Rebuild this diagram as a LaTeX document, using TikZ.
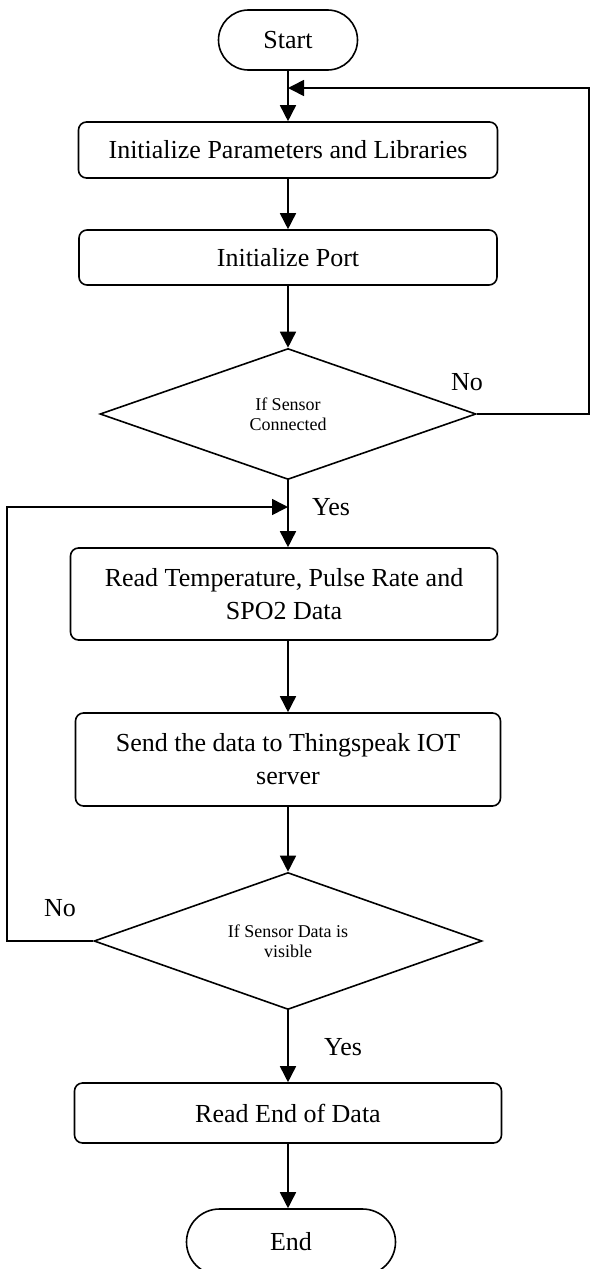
\documentclass[tikz,border=0pt]{standalone}
\usepackage{fontspec}
\setmainfont{Liberation Serif}
\usetikzlibrary{shapes.geometric}
\usetikzlibrary{arrows.meta}
\usetikzlibrary{positioning}

\begin{document}
\begin{tikzpicture}[x=0.5pt,y=-0.5pt,font=\fontsize{13}{16.5}\selectfont,
line width=0.8pt,
arr/.style={-{Triangle[length=8pt,width=8pt]}},
term/.style={draw,rounded corners=15pt,minimum height=30pt},
proc/.style={draw,rounded corners=4pt,align=center,inner sep=2pt},
decide/.style={draw,diamond,aspect=3,inner sep=0pt,align=center,
font=\fontsize{9}{10}\selectfont}]
\useasboundingbox(0,0)rectangle(590,1269);

\node[term,minimum width=69.5pt](start)at(288,40){Start};
\node[proc,minimum width=209.5pt,minimum height=28pt](init)at(288,150)
{Initialize Parameters and Libraries};
\node[proc,minimum width=209pt,minimum height=27.5pt](port)at(288,257.5)
{Initialize Port};
\node[decide,minimum width=188pt,minimum height=65.5pt](sensor)at(288,414)
{If Sensor\\Connected};
\node[proc,minimum width=213.5pt,minimum height=46pt](read)at(284,594)
{Read Temperature, Pulse Rate and\\SPO2 Data};
\node[proc,minimum width=212.5pt,minimum height=46.5pt](send)at(288,759.5)
{Send the data to Thingspeak IOT\\server};
\node[decide,minimum width=194pt,minimum height=68.5pt](visible)at(288,941)
{If Sensor Data is\\visible};
\node[proc,minimum width=213.5pt,minimum height=30pt](done)at(288,1113)
{Read End of Data};
\node[term,minimum width=104.5pt,minimum height=33pt,rounded corners=16.5pt]
(stop)at(291,1242){End};

%%main line
\draw[arr](start)--(init);
\draw[arr](init)--(port);
\draw[arr](port)--(sensor);
\draw[arr](sensor)--(sensor.south|-read.north);
\draw[arr](send.north|-read.south)--(send);
\draw[arr](send)--(visible);
\draw[arr](visible)--(done);
\draw[arr](done)--(done.south|-stop.north);

%Loops
\coordinate(rtop)at(589,88);
\coordinate(ltop)at(7,507);
\draw[arr](sensor.east)-|(rtop)--(start.south|-rtop);
\draw[arr](visible.west)-|(ltop)--(sensor.south|-ltop);

\node(no1)at(467,382){No};
\node(yes1)at(331,507){Yes};
\node(no2)at(60,908){No};
\node(yes2)at(343,1047){Yes};
\end{tikzpicture}
\end{document}
